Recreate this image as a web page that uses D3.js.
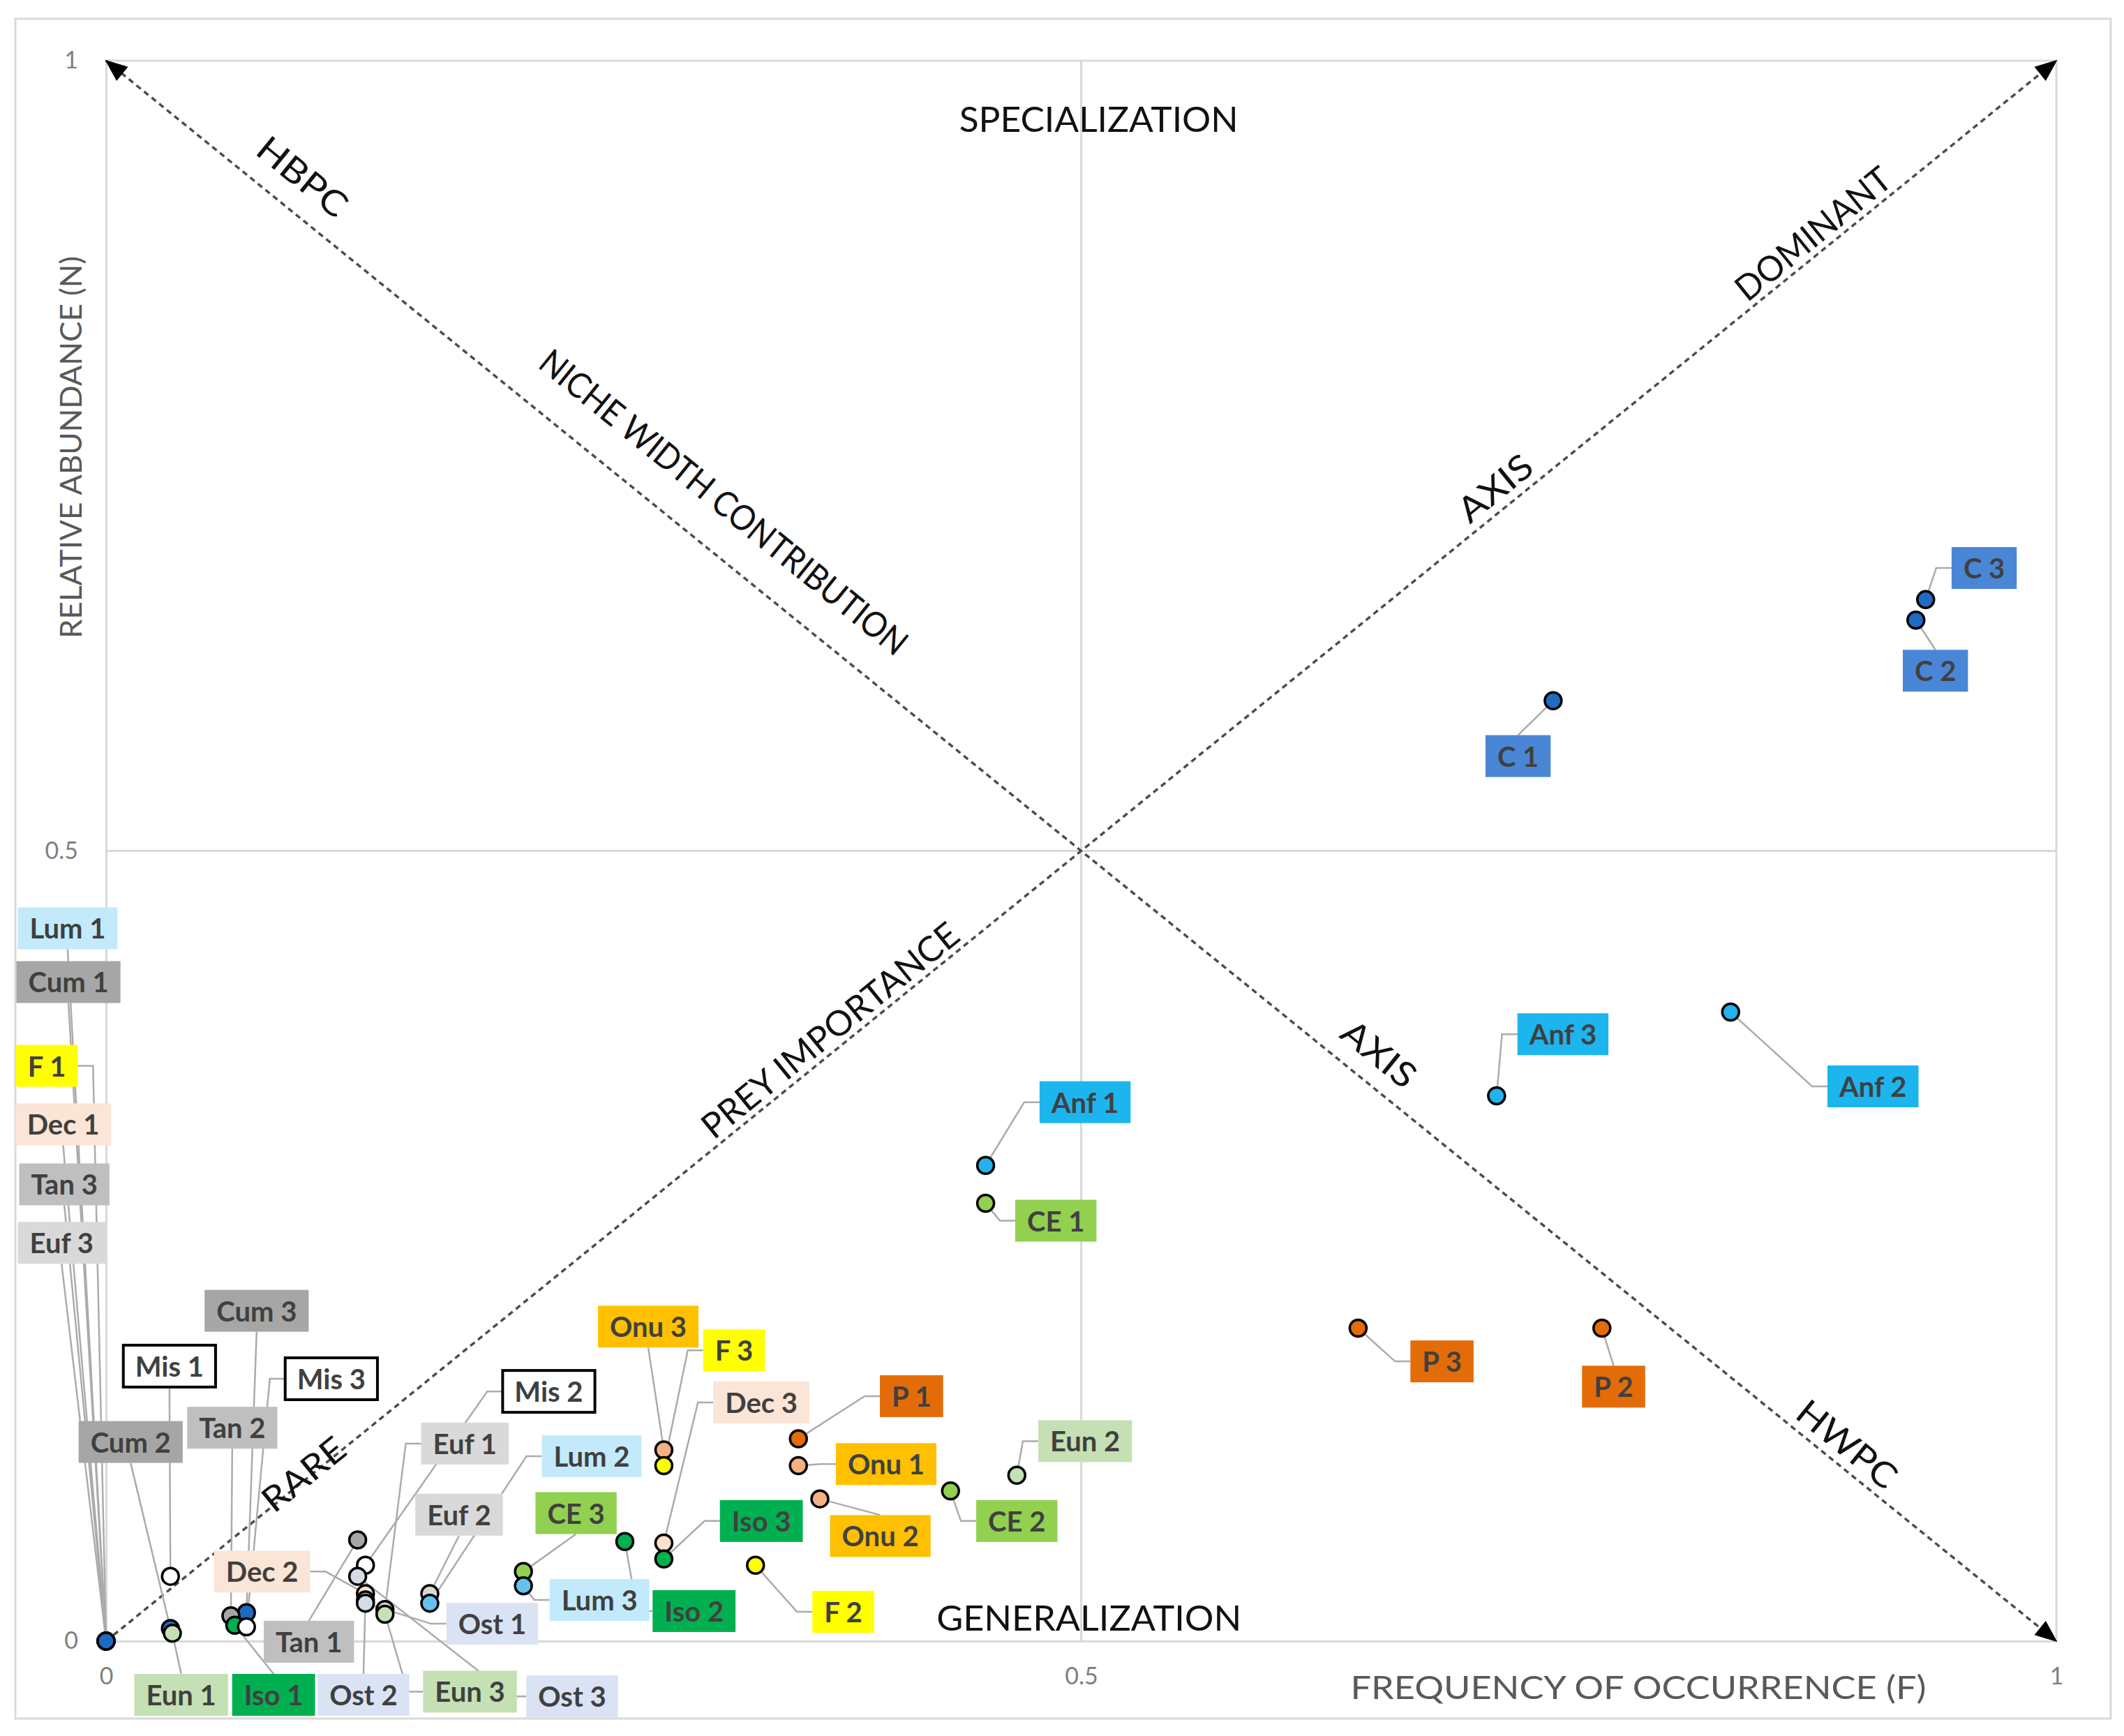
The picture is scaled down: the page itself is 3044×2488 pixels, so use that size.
<!DOCTYPE html>
<html><head><meta charset="utf-8">
<script src="https://cdn.jsdelivr.net/npm/d3@7"></script>
<style>
body{margin:0;background:#fff}
svg{display:block}
text{font-family:Lato,"Open Sans","Liberation Sans",sans-serif}
</style>
</head><body>
<svg id="chart" width="3044" height="2488"></svg>
<script>
// ---------------- DATA ----------------
const taxa = ["C","Anf","P","CE","Eun","Onu","F","Iso","Dec","Lum","Ost","Euf","Mis","Tan","Cum"];

const pointLabels = [
  "C 1","C 2","C 3",
  "Anf 1","Anf 2","Anf 3",
  "P 1","P 2","P 3",
  "CE 1","CE 2","CE 3",
  "Eun 1","Eun 2","Eun 3",
  "Onu 1","Onu 2","Onu 3",
  "F 1","F 2","F 3",
  "Iso 1","Iso 2","Iso 3",
  "Dec 1","Dec 2","Dec 3",
  "Lum 1","Lum 2","Lum 3",
  "Ost 1","Ost 2","Ost 3",
  "Euf 1","Euf 2","Euf 3",
  "Mis 1","Mis 2","Mis 3",
  "Tan 1","Tan 2","Tan 3",
  "Cum 1","Cum 2","Cum 3"
];

// Frequency of occurrence (F)
const frequencyF = [
  0.742, 0.928, 0.933,
  0.451, 0.833, 0.713,
  0.355, 0.767, 0.642,
  0.451, 0.433, 0.214,
  0.034, 0.467, 0.143,
  0.355, 0.366, 0.286,
  0.000, 0.333, 0.286,
  0.066, 0.266, 0.286,
  0.000, 0.133, 0.286,
  0.000, 0.166, 0.214,
  0.133, 0.133, 0.129,
  0.143, 0.166, 0.000,
  0.033, 0.133, 0.072,
  0.129, 0.064, 0.000,
  0.000, 0.033, 0.072
];

// Relative abundance (N)
const abundanceN = [
  0.595, 0.646, 0.659,
  0.301, 0.398, 0.345,
  0.128, 0.198, 0.198,
  0.277, 0.095, 0.044,
  0.005, 0.105, 0.017,
  0.111, 0.090, 0.121,
  0.000, 0.048, 0.111,
  0.010, 0.063, 0.052,
  0.000, 0.030, 0.062,
  0.000, 0.024, 0.035,
  0.024, 0.026, 0.041,
  0.020, 0.030, 0.000,
  0.041, 0.048, 0.009,
  0.064, 0.016, 0.000,
  0.000, 0.008, 0.018
];

const xTickValues = [0, 0.5, 1];
const xTickLabels = ["0", "0.5", "1"];
const yTickValues = [0, 0.5, 1];
const yTickLabels = ["0", "0.5", "1"];

const xTitle = "FREQUENCY OF OCCURRENCE (F)";
const yTitle = "RELATIVE ABUNDANCE (N)";

// ---------------- LAYOUT / STYLE ----------------
// label box centres (in data units) and leader attachment side
const labelAtF = [
  0.724, 0.938, 0.963,
  0.502, 0.906, 0.747,
  0.413, 0.773, 0.685,
  0.487, 0.467, 0.241,
  0.0385, 0.502, 0.1866,
  0.400, 0.397, 0.278,
  -0.0304, 0.378, 0.322,
  0.0859, 0.3015, 0.336,
  -0.022, 0.080, 0.336,
  -0.0197, 0.249, 0.253,
  0.198, 0.132, 0.239,
  0.184, 0.181, -0.0228,
  0.0325, 0.227, 0.1155,
  0.104, 0.0647, -0.0214,
  -0.0193, 0.0126, 0.0772
];
const labelAtN = [
  0.560, 0.614, 0.679,
  0.341, 0.351, 0.384,
  0.155, 0.161, 0.177,
  0.266, 0.076, 0.081,
  -0.034, 0.1265, -0.032,
  0.112, 0.0665, 0.199,
  0.364, 0.0185, 0.184,
  -0.034, 0.019, 0.076,
  0.327, 0.044, 0.151,
  0.451, 0.117, 0.026,
  0.011, -0.034, -0.035,
  0.125, 0.080, 0.252,
  0.174, 0.158, 0.166,
  -0.0004, 0.135, 0.289,
  0.417, 0.126, 0.209
];
const leaderSide = [
  "t","t","l",
  "l","l","l",
  "l","t","l",
  "l","l","b",
  "t","l","l",
  "l","t","b",
  "r","l","l",
  "t","l","l",
  "b","r","l",
  "b","l","l",
  "l","t","l",
  "l","b","b",
  "b","l","l",
  "t","b","b",
  "b","b","b"
];

const labelFill = {
  C:"#4A86D6", Anf:"#1DB5EE", P:"#E36C09", CE:"#92D050", Eun:"#C5E0B4",
  Onu:"#FFC000", F:"#FFFF00", Iso:"#00B050", Dec:"#FBE5D6", Lum:"#C2EAFB",
  Ost:"#DAE3F3", Euf:"#D9D9D9", Mis:"#FFFFFF", Tan:"#BFBFBF", Cum:"#A6A6A6"
};
const dotFill = {
  C:"#1F6BC4", Anf:"#22B2EC", P:"#E36C09", CE:"#92D050", Eun:"#C5E0B4",
  Onu:"#F4B183", F:"#FFFF00", Iso:"#00B050", Dec:"#FBE0CC", Lum:"#62C3EF",
  Ost:"#D6DCE5", Euf:"#D9D9D9", Mis:"#FFFFFF", Tan:"#A6A6A6", Cum:"#1F6BC4"
};

// ---------------- DRAW ----------------
const W = 3044, H = 2488;
const svg = d3.select("#chart");
svg.append("rect").attr("width", W).attr("height", H).attr("fill", "#fff");

const x = d3.scaleLinear().domain([0, 1]).range([152, 2947]);
const y = d3.scaleLinear().domain([0, 1]).range([2352, 87]);

// chart frame
svg.append("rect").attr("x", 22).attr("y", 27).attr("width", 3003).attr("height", 2436)
  .attr("fill", "none").attr("stroke", "#D9D9D9").attr("stroke-width", 3);

const gridCol = "#D9D9D9";
// gridlines
svg.append("g").selectAll("line").data(xTickValues.filter(v => v > 0)).join("line")
  .attr("x1", d => x(d)).attr("x2", d => x(d)).attr("y1", y(0)).attr("y2", y(1))
  .attr("stroke", gridCol).attr("stroke-width", 3);
svg.append("g").selectAll("line").data(yTickValues.filter(v => v > 0)).join("line")
  .attr("y1", d => y(d)).attr("y2", d => y(d)).attr("x1", x(0)).attr("x2", x(1))
  .attr("stroke", gridCol).attr("stroke-width", 3);

// axes
const xAxis = d3.axisBottom(x).tickValues(xTickValues)
  .tickFormat((d, i) => xTickLabels[i]).tickSize(0).tickSizeOuter(0).tickPadding(38);
const yAxis = d3.axisLeft(y).tickValues(yTickValues)
  .tickFormat((d, i) => yTickLabels[i]).tickSize(0).tickSizeOuter(0).tickPadding(40);
const gx = svg.append("g").attr("transform", `translate(0,${y(0)})`).call(xAxis);
const gy = svg.append("g").attr("transform", `translate(${x(0)},0)`).call(yAxis);
[gx, gy].forEach(g => {
  g.select(".domain").attr("stroke", gridCol).attr("stroke-width", 3);
  g.selectAll("text").attr("font-size", 34).attr("fill", "#7F7F7F")
    .attr("font-family", "Lato, 'Open Sans', sans-serif");
});

// axis titles
svg.append("text").attr("x", 2348).attr("y", 2417).attr("text-anchor", "middle")
  .attr("dominant-baseline", "central").attr("font-size", 46).attr("fill", "#595959")
  .attr("textLength", 825).attr("lengthAdjust", "spacingAndGlyphs").text(xTitle);
svg.append("text").attr("transform", "translate(101,641) rotate(-90)").attr("text-anchor", "middle")
  .attr("dominant-baseline", "central").attr("font-size", 42).attr("fill", "#595959")
  .attr("textLength", 548).attr("lengthAdjust", "spacingAndGlyphs").text(yTitle);

// arrow marker
const defs = svg.append("defs");
["end", "start"].forEach(k => {
  defs.append("marker").attr("id", "arrow-" + k)
    .attr("viewBox", "-2 -16 36 32").attr("markerUnits", "userSpaceOnUse")
    .attr("markerWidth", 36).attr("markerHeight", 32)
    .attr("refX", 30).attr("refY", 0)
    .attr("orient", k === "end" ? "auto" : "auto-start-reverse")
    .append("path").attr("d", "M0,-13 L32,0 L0,13 Z").attr("fill", "#000");
});

// diagonal axes
const diagonals = [
  {from: [0, 0], to: [1, 1], start: false, end: true},
  {from: [0, 1], to: [1, 0], start: true, end: true}
];
svg.append("g").selectAll("line").data(diagonals).join("line")
  .attr("x1", d => x(d.from[0])).attr("y1", d => y(d.from[1]))
  .attr("x2", d => x(d.to[0])).attr("y2", d => y(d.to[1]))
  .attr("stroke", "#4D4D4D").attr("stroke-width", 3.5)
  .attr("stroke-dasharray", "8,6")
  .attr("marker-end", d => d.end ? "url(#arrow-end)" : null)
  .attr("marker-start", d => d.start ? "url(#arrow-start)" : null);

// annotation texts
const angle = Math.atan2(y(0) - y(1), x(1) - x(0)) * 180 / Math.PI;
const annotations = [
  {t: "SPECIALIZATION", f: 0.509, n: 0.955, rot: 0, len: 400, base: true},
  {t: "GENERALIZATION", f: 0.504, n: 0.0066, rot: 0, len: 437, base: true},
  {t: "HBPC", f: 0.101, n: 0.927, rot: 1, len: 151},
  {t: "NICHE WIDTH CONTRIBUTION", f: 0.317, n: 0.721, rot: 1, len: 662},
  {t: "AXIS", f: 0.653, n: 0.372, rot: 1, len: 122},
  {t: "HWPC", f: 0.893, n: 0.125, rot: 1, len: 169},
  {t: "DOMINANT", f: 0.875, n: 0.891, rot: -1, len: 271},
  {t: "AXIS", f: 0.712, n: 0.730, rot: -1, len: 122},
  {t: "PREY IMPORTANCE", f: 0.371, n: 0.387, rot: -1, len: 458},
  {t: "RARE", f: 0.101, n: 0.106, rot: -1, len: 138}
];
svg.append("g").selectAll("text").data(annotations).join("text")
  .attr("transform", d => `translate(${x(d.f)},${y(d.n)}) rotate(${d.rot * angle})`)
  .attr("text-anchor", "middle")
  .attr("dominant-baseline", d => d.base ? "alphabetic" : "central")
  .attr("font-size", 50).attr("fill", "#111")
  .attr("textLength", d => d.len).attr("lengthAdjust", "spacingAndGlyphs")
  .text(d => d.t);

// ---------------- POINTS + LABELS ----------------
const points = pointLabels.map((lab, i) => ({
  lab, taxon: lab.split(" ")[0],
  f: frequencyF[i], n: abundanceN[i],
  lf: labelAtF[i], ln: labelAtN[i], side: leaderSide[i], idx: i
}));

const leaderG = svg.append("g");
const dotG = svg.append("g");
const labelG = svg.append("g");

const LH = 60, PAD = 17, STUB = 22;
points.forEach(p => {
  const cx = x(p.lf), cy = y(p.ln);
  const g = labelG.append("g").attr("transform", `translate(${cx},${cy})`);
  const rect = g.append("rect");
  const txt = g.append("text").attr("text-anchor", "middle").attr("dominant-baseline", "central")
    .attr("font-size", 40).attr("font-weight", 700).attr("fill", "#404040").text(p.lab);
  const tw = txt.node().getComputedTextLength();
  const w = tw + 2 * PAD;
  rect.attr("x", -w / 2).attr("y", -LH / 2).attr("width", w).attr("height", LH)
    .attr("fill", labelFill[p.taxon])
    .attr("stroke", p.taxon === "Mis" ? "#000" : "none")
    .attr("stroke-width", p.taxon === "Mis" ? 4 : 0);
  const px = x(p.f), py = y(p.n);
  let pts;
  if (p.side === "l") pts = [[cx - w / 2, cy], [cx - w / 2 - STUB, cy], [px, py]];
  else if (p.side === "r") pts = [[cx + w / 2, cy], [cx + w / 2 + STUB, cy], [px, py]];
  else if (p.side === "t") pts = [[cx, cy - LH / 2], [px, py]];
  else pts = [[cx, cy + LH / 2], [px, py]];
  leaderG.append("path").attr("d", d3.line()(pts))
    .attr("fill", "none").attr("stroke", "#ABABAB").attr("stroke-width", 2.5);
});

// dots: higher values first so lower ones sit on top
const drawOrder = points.slice().sort((a, b) => b.n - a.n);
dotG.selectAll("circle").data(drawOrder).join("circle")
  .attr("cx", d => x(d.f)).attr("cy", d => y(d.n)).attr("r", 12)
  .attr("fill", d => dotFill[d.taxon]).attr("stroke", "#000").attr("stroke-width", 3.5);
</script>
</body></html>
